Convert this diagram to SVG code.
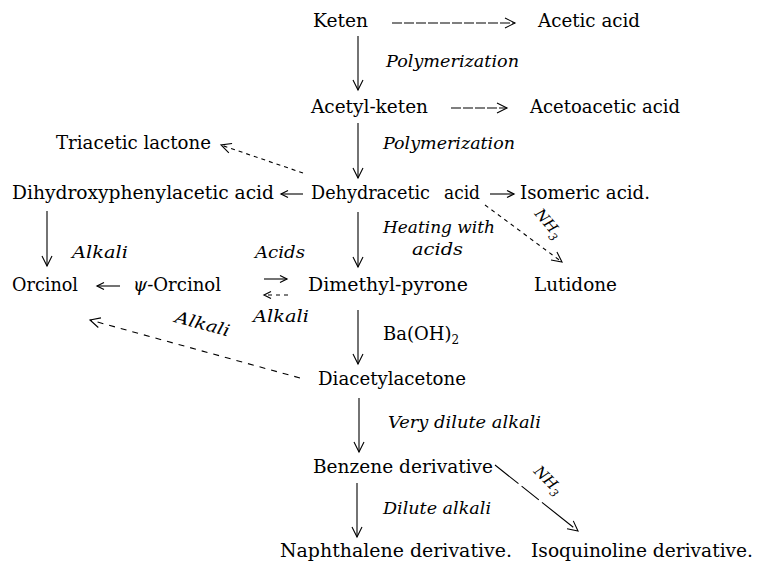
<svg xmlns="http://www.w3.org/2000/svg" width="757" height="562" viewBox="0 0 757 562">
<style>
text{font-family:"DejaVu Serif","Liberation Serif",serif;fill:#000}
.n{font-size:18px}
.l{font-size:16.5px;font-style:italic}
.s{font-size:15px;font-style:italic}
.c line{stroke:#000;stroke-width:1.1;fill:none}
.d{stroke-dasharray:10 2}
.dd{stroke-dasharray:4 4}
.dl{stroke-dasharray:6 6}
</style>
<defs>
<marker id="ah" markerWidth="14" markerHeight="14" refX="11" refY="7" orient="auto" markerUnits="userSpaceOnUse">
<path d="M1,2 L11,7 L1,12" fill="none" stroke="#000" stroke-width="1.1"/>
</marker>
<marker id="as" markerWidth="10" markerHeight="10" refX="8" refY="5" orient="auto" markerUnits="userSpaceOnUse">
<path d="M1,1.5 L8,5 L1,8.5" fill="none" stroke="#000" stroke-width="1.2"/>
</marker>
</defs>
<rect width="757" height="562" fill="#fff"/>

<g id="keten"><text class="n" x="313" y="27" textLength="55" lengthAdjust="spacingAndGlyphs">Keten</text></g>
<g id="acetic-acid"><text class="n" x="538" y="27" textLength="102" lengthAdjust="spacingAndGlyphs">Acetic acid</text></g>
<g id="acetyl-keten"><text class="n" x="311" y="113" textLength="117" lengthAdjust="spacingAndGlyphs">Acetyl-keten</text></g>
<g id="acetoacetic-acid"><text class="n" x="530" y="113" textLength="150" lengthAdjust="spacingAndGlyphs">Acetoacetic acid</text></g>
<g id="triacetic-lactone"><text class="n" x="56" y="149" textLength="155" lengthAdjust="spacingAndGlyphs">Triacetic lactone</text></g>
<g id="dihydroxyphenylacetic-acid"><text class="n" x="12" y="199" textLength="262" lengthAdjust="spacingAndGlyphs">Dihydroxyphenylacetic acid</text></g>
<g id="dehydracetic-acid"><text class="n" x="311" y="199" textLength="119" lengthAdjust="spacingAndGlyphs">Dehydracetic</text><text class="n" x="444" y="199" textLength="36" lengthAdjust="spacingAndGlyphs">acid</text></g>
<g id="isomeric-acid"><text class="n" x="520" y="199" textLength="130" lengthAdjust="spacingAndGlyphs">Isomeric acid.</text></g>
<g id="orcinol"><text class="n" x="12" y="291" textLength="66" lengthAdjust="spacingAndGlyphs">Orcinol</text></g>
<g id="psi-orcinol"><text class="n" x="133" y="291" textLength="88" lengthAdjust="spacingAndGlyphs"><tspan font-style="italic">ψ</tspan>-Orcinol</text></g>
<g id="dimethyl-pyrone"><text class="n" x="308" y="291" textLength="160" lengthAdjust="spacingAndGlyphs">Dimethyl-pyrone</text></g>
<g id="lutidone"><text class="n" x="534" y="291" textLength="83" lengthAdjust="spacingAndGlyphs">Lutidone</text></g>
<g id="diacetylacetone"><text class="n" x="318" y="385" textLength="148" lengthAdjust="spacingAndGlyphs">Diacetylacetone</text></g>
<g id="benzene-derivative"><text class="n" x="313" y="473" textLength="180" lengthAdjust="spacingAndGlyphs">Benzene derivative</text></g>
<g id="naphthalene-derivative"><text class="n" x="280" y="557" textLength="232" lengthAdjust="spacingAndGlyphs">Naphthalene derivative.</text></g>
<g id="isoquinoline-derivative"><text class="n" x="531" y="557" textLength="222" lengthAdjust="spacingAndGlyphs">Isoquinoline derivative.</text></g>

<g id="connectors" class="c">
<line class="d" x1="392" y1="23" x2="515" y2="23" marker-end="url(#ah)"/>
<line x1="358" y1="36" x2="358" y2="90" marker-end="url(#ah)"/>
<line class="d" x1="451" y1="108" x2="507" y2="108" marker-end="url(#ah)"/>
<line x1="358" y1="123" x2="358" y2="178" marker-end="url(#ah)"/>
<line class="dd" x1="303" y1="173" x2="221" y2="145" marker-end="url(#ah)"/>
<line x1="303" y1="194" x2="281" y2="194" marker-end="url(#as)"/>
<line x1="490" y1="194" x2="514" y2="194" marker-end="url(#as)"/>
<line x1="47" y1="211" x2="47" y2="266" marker-end="url(#ah)"/>
<line x1="358" y1="212" x2="358" y2="267" marker-end="url(#ah)"/>
<line class="dd" x1="485" y1="205" x2="562" y2="262" marker-end="url(#ah)"/>
<line x1="120" y1="286" x2="97" y2="286" marker-end="url(#as)"/>
<line x1="264" y1="279" x2="287" y2="279" marker-end="url(#as)"/>
<line class="dd" x1="288" y1="295" x2="264" y2="295" marker-end="url(#as)"/>
<line x1="358" y1="310" x2="358" y2="364" marker-end="url(#ah)"/>
<line class="dl" x1="300" y1="378" x2="90" y2="320" marker-end="url(#ah)"/>
<line x1="359" y1="398" x2="359" y2="452" marker-end="url(#ah)"/>
<line style="stroke-dasharray:30 4 22 4 40" x1="495" y1="465" x2="578" y2="531" marker-end="url(#ah)"/>
<line x1="357" y1="483" x2="357" y2="537" marker-end="url(#ah)"/>
</g>

<g id="labels">
<text class="l" x="386" y="67" textLength="133" lengthAdjust="spacingAndGlyphs">Polymerization</text>
<text class="l" x="383" y="149" textLength="132" lengthAdjust="spacingAndGlyphs">Polymerization</text>
<text class="l" x="72" y="258" textLength="56" lengthAdjust="spacingAndGlyphs">Alkali</text>
<text class="l" x="383" y="233" textLength="112" lengthAdjust="spacingAndGlyphs">Heating with</text>
<text class="l" x="412" y="255" textLength="51" lengthAdjust="spacingAndGlyphs">acids</text>
<text class="l" x="255" y="258" textLength="50" lengthAdjust="spacingAndGlyphs">Acids</text>
<text class="l" x="253" y="322" textLength="56" lengthAdjust="spacingAndGlyphs">Alkali</text>
<text class="l" transform="translate(174,322) rotate(15)" textLength="56" lengthAdjust="spacingAndGlyphs">Alkali</text>
<text class="n" x="383" y="340">Ba(OH)<tspan font-size="12" dy="4">2</tspan></text>
<text class="l" x="388" y="428" textLength="153" lengthAdjust="spacingAndGlyphs">Very dilute alkali</text>
<text class="l" x="383" y="514" textLength="108" lengthAdjust="spacingAndGlyphs">Dilute alkali</text>
<text class="s" transform="translate(534,214) rotate(50)">NH<tspan font-size="11" dy="4">3</tspan></text>
<text class="s" transform="translate(533,472) rotate(45)">NH<tspan font-size="11" dy="4">3</tspan></text>
</g>
</svg>
